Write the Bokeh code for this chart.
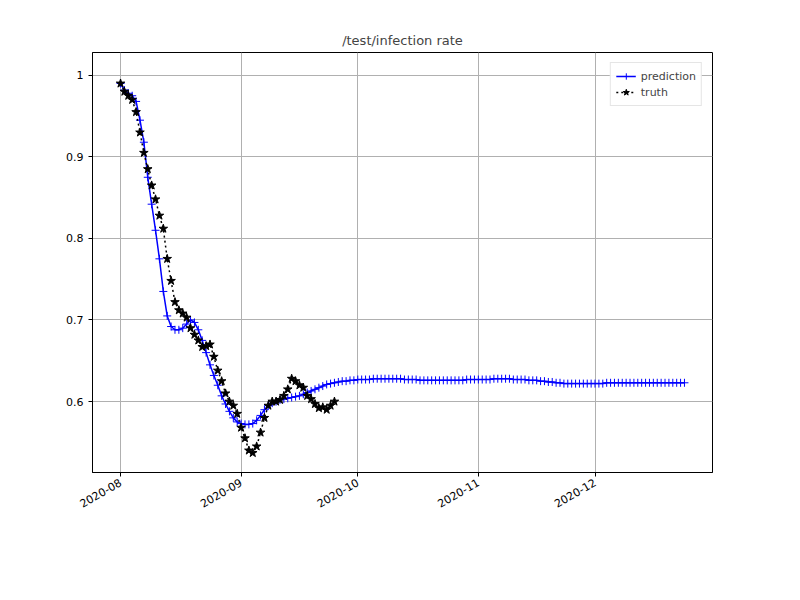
import math
from datetime import datetime, timedelta
from bokeh.plotting import figure
from bokeh.models import DatetimeTickFormatter, MonthsTicker, Range1d, Legend, LegendItem, FixedTicker
from bokeh.embed import file_html
from bokeh.resources import INLINE

start = datetime(2020, 8, 1)

truth = [0.99, 0.98, 0.975, 0.97, 0.955, 0.93, 0.905, 0.885, 0.865, 0.848, 0.828, 0.812, 0.775, 0.748, 0.722,
         0.712, 0.708, 0.703, 0.69, 0.682, 0.675, 0.667, 0.668, 0.67, 0.655, 0.638, 0.625, 0.61, 0.6, 0.595, 0.585,
         0.568, 0.555, 0.54, 0.537, 0.545, 0.562, 0.58, 0.595, 0.6, 0.6, 0.602, 0.607, 0.615, 0.628, 0.625,
         0.62, 0.617, 0.607, 0.603, 0.597, 0.592, 0.593, 0.59, 0.595, 0.6]

pred = [0.99, 0.982, 0.978, 0.975, 0.968, 0.945, 0.918, 0.875, 0.842, 0.81, 0.775, 0.735, 0.705, 0.692, 0.688,
        0.688, 0.69, 0.695, 0.7, 0.697, 0.688, 0.675, 0.66, 0.645, 0.632, 0.62, 0.607, 0.597, 0.588, 0.58, 0.575,
        # Sep
        0.573, 0.572, 0.572, 0.573, 0.577, 0.583, 0.59, 0.595, 0.598, 0.6, 0.602, 0.603, 0.604, 0.605, 0.606,
        0.607, 0.609, 0.611, 0.613, 0.615, 0.617, 0.619, 0.621, 0.622, 0.623, 0.624, 0.625, 0.625, 0.626, 0.626,
        # Oct
        0.627, 0.627, 0.627, 0.627, 0.628, 0.628, 0.628, 0.628, 0.628, 0.628, 0.628, 0.628, 0.627, 0.627, 0.627,
        0.627, 0.626, 0.626, 0.626, 0.626, 0.626, 0.626, 0.626, 0.626, 0.626, 0.626, 0.626, 0.626, 0.627, 0.627, 0.627,
        # Nov
        0.627, 0.627, 0.627, 0.627, 0.628, 0.628, 0.628, 0.628, 0.628, 0.627, 0.627, 0.627, 0.627, 0.626, 0.626,
        0.626, 0.625, 0.625, 0.624, 0.624, 0.623, 0.623, 0.622, 0.622, 0.622, 0.622, 0.622, 0.622, 0.622, 0.622,
        # Dec
        0.622, 0.622, 0.622, 0.623, 0.623, 0.623, 0.623, 0.623, 0.623, 0.623, 0.623, 0.623, 0.623, 0.623, 0.623,
        0.623, 0.623, 0.623, 0.623, 0.623, 0.623, 0.623, 0.623, 0.623]

pred_x = [start + timedelta(days=i) for i in range(len(pred))]
truth_x = [start + timedelta(days=i) for i in range(len(truth))]

p = figure(x_axis_type="datetime", width=784, height=584, output_backend="svg", toolbar_location=None,
           title="/test/infection rate", min_border_left=92, min_border_right=72,
           min_border_top=52, min_border_bottom=112)
p.x_range = Range1d(start - timedelta(hours=173), pred_x[-1] + timedelta(hours=173))
p.y_range = Range1d(0.513, 1.028)

p.title.align = "center"
p.title.text_font_style = "normal"
p.title.text_font = "DejaVu Sans"
p.title.text_font_size = "13px"

lp = p.line(pred_x, pred, color="blue", line_width=1.5)
mp = p.scatter(pred_x, pred, marker="cross", color="blue", size=8)
lt = p.line(truth_x, truth, color="black", line_width=1.5, line_dash="2 3")
mt = p.scatter(truth_x, truth, marker="star", color="black", size=9)

p.xaxis.ticker = MonthsTicker(months=list(range(12)))
p.xaxis.formatter = DatetimeTickFormatter(months="%Y-%m", days="%Y-%m")
p.xaxis.major_label_orientation = math.radians(30)
p.yaxis.ticker = FixedTicker(ticks=[0.6, 0.7, 0.8, 0.9, 1.0])
for ax in (p.xaxis, p.yaxis):
    ax.minor_tick_line_color = None
    ax.major_label_text_font = "DejaVu Sans"
    ax.major_label_text_font_size = "11px"
    ax.major_label_text_color = "black"
    ax.major_tick_in = 0
    ax.major_tick_out = 4
    ax.axis_line_color = "black"
p.grid.grid_line_color = "#b0b0b0"
p.grid.grid_line_alpha = 1
p.outline_line_color = "black"

legend = Legend(items=[LegendItem(label="prediction", renderers=[lp, mp]),
                       LegendItem(label="truth", renderers=[lt, mt])],
                location="top_right", label_text_font="DejaVu Sans", label_text_font_size="11px",
                border_line_color="#cccccc", spacing=0, padding=5, glyph_height=16, label_height=16)
p.add_layout(legend)

open("out.html", "w").write(file_html(p, INLINE))
